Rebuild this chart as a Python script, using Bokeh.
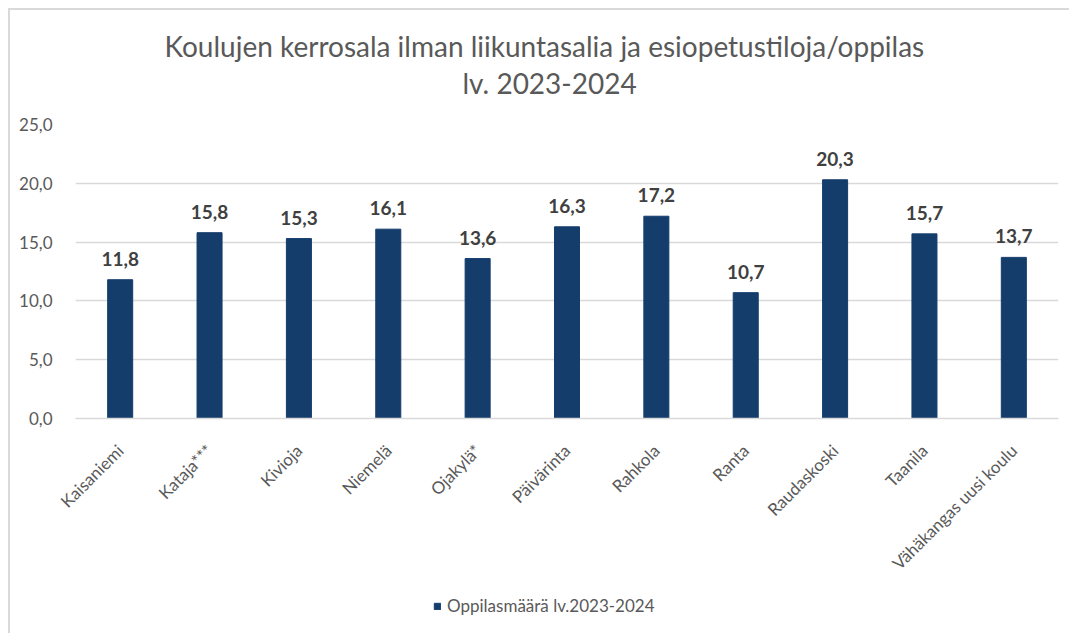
import math
from bokeh.plotting import figure
from bokeh.models import (ColumnDataSource, FactorRange, Range1d, FixedTicker,
                          CustomJSTickFormatter, LabelSet, Legend, LegendItem, Title)
from bokeh.core.properties import value
from bokeh.embed import file_html
from bokeh.resources import INLINE

categories = ["Kaisaniemi", "Kataja***", "Kivioja", "Niemelä", "Ojakylä*", "Päivärinta",
              "Rahkola", "Ranta", "Raudaskoski", "Taanila", "Vähäkangas uusi koulu"]
values = [11.8, 15.8, 15.3, 16.1, 13.6, 16.3, 17.2, 10.7, 20.3, 15.7, 13.7]
y_ticks = [0, 5, 10, 15, 20, 25]
title_lines = ["Koulujen kerrosala ilman liikuntasalia ja esiopetustiloja/oppilas", "lv. 2023-2024"]
series_name = "Oppilasmäärä lv.2023-2024"

FONT = "Lato"
TXT = "#595959"
GRID = "#d9d9d9"
BAR = "#143d6c"

labels = [f"{v:.1f}".replace(".", ",") for v in values]
src = ColumnDataSource(dict(cat=categories, val=values, lab=labels))

p = figure(frame_width=983, frame_height=294, x_range=FactorRange(factors=categories),
           y_range=Range1d(0, 25), output_backend="svg", toolbar_location=None,
           min_border_left=65, min_border_right=8, min_border_top=114,
           min_border_bottom=215)
p.styles = {"margin-top": "8px", "margin-left": "8px",
            "border-top": "2px solid #d9d9d9", "border-left": "2px solid #d9d9d9"}
p.outline_line_color = None
p.background_fill_color = "white"
p.border_fill_color = "white"

# two-line title
t2 = Title(text=title_lines[1], align="left", offset=387, text_font=FONT,
           text_font_size="28px", text_font_style="normal", text_color=TXT)
t1 = Title(text=title_lines[0], align="left", offset=89, text_font=FONT,
           text_font_size="28px", text_font_style="normal", text_color=TXT)
try:
    t1.standoff = -48
    t2.standoff = 50
except Exception:
    t1.standoff = 0
    t2.standoff = 34
p.add_layout(t2, "above")
p.add_layout(t1, "above")

r = p.vbar(x="cat", top="val", width=0.28, source=src, fill_color=BAR, line_color=BAR)

# data labels
p.add_layout(LabelSet(x="cat", y="val", text="lab", source=src, text_align="center",
                      text_baseline="alphabetic", y_offset=14, text_font=value(FONT),
                      text_font_style="bold", text_font_size="19px", text_color="#404040"))

# axes
p.yaxis.ticker = FixedTicker(ticks=y_ticks)
p.yaxis.formatter = CustomJSTickFormatter(code="return tick.toFixed(1).replace('.', ',');")
p.yaxis.axis_line_color = None
p.yaxis.major_tick_line_color = None
p.yaxis.minor_tick_line_color = None
p.yaxis.major_label_standoff = 17
p.yaxis.major_label_text_font = FONT
p.yaxis.major_label_text_font_size = "17px"
p.yaxis.major_label_text_color = TXT

p.xaxis.axis_line_color = GRID
p.xaxis.axis_line_width = 1.3
p.xaxis.major_tick_line_color = None
p.xaxis.minor_tick_line_color = None
p.xaxis.major_tick_out = 0
p.xaxis.major_tick_in = 0
p.xaxis.major_label_orientation = math.pi / 4
p.xaxis.major_label_standoff = 29
p.xaxis.major_label_text_font = FONT
p.xaxis.major_label_text_font_size = "17px"
p.xaxis.major_label_text_color = TXT

p.xgrid.grid_line_color = None
p.ygrid.grid_line_color = GRID
p.ygrid.grid_line_width = 1.3

# legend: placed in the right side panel, shifted under the chart
legend = Legend(items=[LegendItem(label=series_name, renderers=[r])],
                location=(-625, -198), orientation="horizontal",
                padding=0, margin=0, glyph_width=8, glyph_height=8, label_standoff=6,
                label_text_font=FONT, label_text_font_size="17px", label_text_color=TXT,
                background_fill_alpha=0, border_line_alpha=0)
p.add_layout(legend, "right")

open("out.html", "w").write(file_html(p, INLINE))
